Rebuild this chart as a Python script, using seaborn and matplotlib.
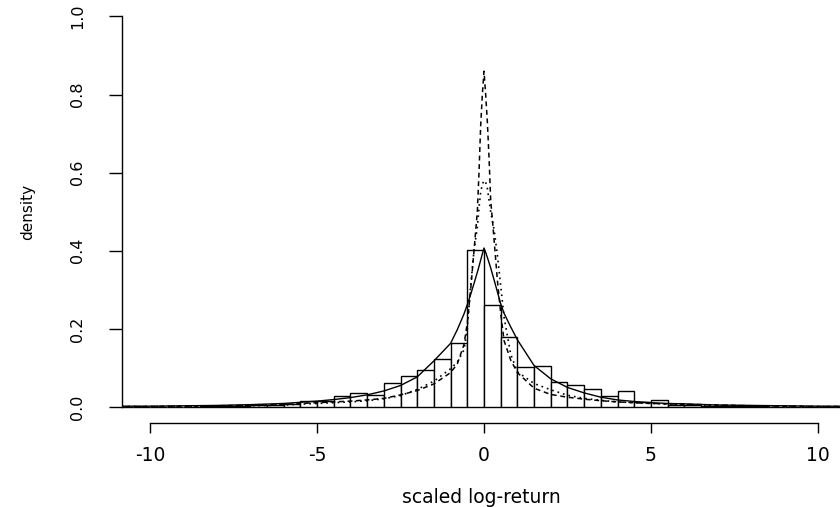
import numpy as np
import pandas as pd
import matplotlib
matplotlib.use("Agg")
import matplotlib.pyplot as plt
import seaborn as sns

# ---- data ----
bin_edges = [-11.0 + 0.5 * i for i in range(45)]  # -11 ... 11, width 0.5
bin_density = [
    0.000, 0.001, 0.001, 0.001, 0.001, 0.002, 0.002, 0.003, 0.004, 0.005,   # -11.0 .. -6.5
    0.008, 0.016, 0.016, 0.028, 0.037, 0.030, 0.061, 0.079, 0.095, 0.122,   # -6.0 .. -1.5
    0.165, 0.403, 0.261, 0.179, 0.102, 0.104, 0.064, 0.056, 0.045, 0.028,   # -1.0 .. 3.5
    0.040, 0.013, 0.017, 0.006, 0.005, 0.003, 0.003, 0.002, 0.002, 0.001,   # 4.0 .. 8.5
    0.001, 0.001, 0.001, 0.001,                                             # 9.0 .. 10.5
]

curve_x = [-11, -10, -9, -8, -7, -6, -5.5, -5, -4.5, -4, -3.5, -3, -2.5, -2, -1.5, -1,
           -0.8, -0.6, -0.5, -0.4, -0.3, -0.2, -0.15, -0.1, -0.05, 0, 0.05, 0.1, 0.15,
           0.2, 0.3, 0.4, 0.5, 0.6, 0.8, 1, 1.5, 2, 2.5, 3, 3.5, 4, 4.5, 5, 5.5, 6,
           7, 8, 9, 10, 11]
solid_y = [0.002, 0.002, 0.003, 0.004, 0.006, 0.009, 0.012, 0.015, 0.019, 0.024, 0.031,
           0.041, 0.055, 0.077, 0.118, 0.163, 0.198, 0.238, 0.262, 0.288, 0.316, 0.345,
           0.360, 0.376, 0.392, 0.407, 0.396, 0.383, 0.370, 0.356, 0.326, 0.295, 0.264,
           0.240, 0.205, 0.172, 0.106, 0.072, 0.050, 0.036, 0.025, 0.018, 0.014, 0.011,
           0.009, 0.008, 0.005, 0.004, 0.003, 0.002, 0.002]
dashed_y = [0.001, 0.001, 0.002, 0.003, 0.004, 0.006, 0.009, 0.011, 0.013, 0.015, 0.018,
            0.022, 0.031, 0.042, 0.059, 0.088, 0.110, 0.160, 0.215, 0.300, 0.400, 0.500,
            0.600, 0.720, 0.800, 0.860, 0.800, 0.730, 0.640, 0.530, 0.430, 0.325, 0.240,
            0.170, 0.120, 0.088, 0.048, 0.032, 0.025, 0.020, 0.016, 0.013, 0.011, 0.009,
            0.008, 0.007, 0.005, 0.003, 0.002, 0.001, 0.001]
dotted_y = [0.001, 0.001, 0.002, 0.002, 0.003, 0.005, 0.007, 0.009, 0.011, 0.013, 0.016,
            0.021, 0.029, 0.045, 0.066, 0.098, 0.115, 0.146, 0.200, 0.310, 0.400, 0.460,
            0.510, 0.550, 0.570, 0.580, 0.575, 0.560, 0.530, 0.500, 0.455, 0.390, 0.310,
            0.230, 0.135, 0.090, 0.060, 0.044, 0.030, 0.022, 0.017, 0.013, 0.011, 0.009,
            0.007, 0.006, 0.004, 0.003, 0.002, 0.001, 0.001]

x_ticks = [-10, -5, 0, 5, 10]
y_ticks = [0.0, 0.2, 0.4, 0.6, 0.8, 1.0]
y_tick_labels = ["0.0", "0.2", "0.4", "0.6", "0.8", "1.0"]
x_label = "scaled log-return"
y_label = "density"

# ---- style ----
sns.set_theme(style="white")
plt.rcParams["font.family"] = ["DejaVu Sans"]
plt.rcParams["axes.edgecolor"] = "black"
plt.rcParams["xtick.color"] = "black"
plt.rcParams["ytick.color"] = "black"
plt.rcParams["text.color"] = "black"
plt.rcParams["axes.labelcolor"] = "black"

W, H = 840, 507
fig = plt.figure(figsize=(W / 100, H / 100), dpi=100)
ax = fig.add_axes([122 / W, (H - 423.3) / H, 1 - 122 / W, (423.3 - 1.4) / H])

centers = [(a + b) / 2 for a, b in zip(bin_edges[:-1], bin_edges[1:])]
hist_df = pd.DataFrame({"x": centers, "w": bin_density})
sns.histplot(data=hist_df, x="x", weights="w", bins=list(bin_edges), stat="count",
             color="white", edgecolor="black", linewidth=1.0, alpha=1.0, ax=ax)

curve_df = pd.DataFrame({"x": curve_x, "solid": solid_y, "dashed": dashed_y, "dotted": dotted_y})
sns.lineplot(data=curve_df, x="x", y="solid", color="black", linewidth=1.0, ax=ax)
sns.lineplot(data=curve_df, x="x", y="dashed", color="black", linewidth=1.1,
             linestyle=(0, (3.2, 2.4)), ax=ax)
sns.lineplot(data=curve_df, x="x", y="dotted", color="black", linewidth=1.2,
             linestyle=(0, (1, 2.4)), ax=ax)

ax.set_xlim(-10.84, 10.66)
ax.set_ylim(-0.0418, 1.0386)

for s in ["top", "right"]:
    ax.spines[s].set_visible(False)
ax.spines["left"].set_bounds(0, 1)
ax.spines["bottom"].set_bounds(-10, 10)
ax.spines["left"].set_linewidth(1.0)
ax.spines["bottom"].set_linewidth(1.0)

ax.set_xticks(x_ticks)
ax.set_xticklabels([str(t) for t in x_ticks])
ax.set_yticks(y_ticks)
ax.set_yticklabels(y_tick_labels, rotation=90, va="center")
ax.tick_params(axis="x", direction="out", length=7.2, width=1.0, pad=9.5,
               labelsize=13.5, bottom=True)
ax.tick_params(axis="y", direction="out", length=9.6, width=1.0, pad=17,
               labelsize=11.5, left=True)

ax.set_xlabel(x_label, fontsize=13.5, labelpad=16)
ax.set_ylabel(y_label, fontsize=11, labelpad=25)

fig.savefig("out.png", dpi=100)
